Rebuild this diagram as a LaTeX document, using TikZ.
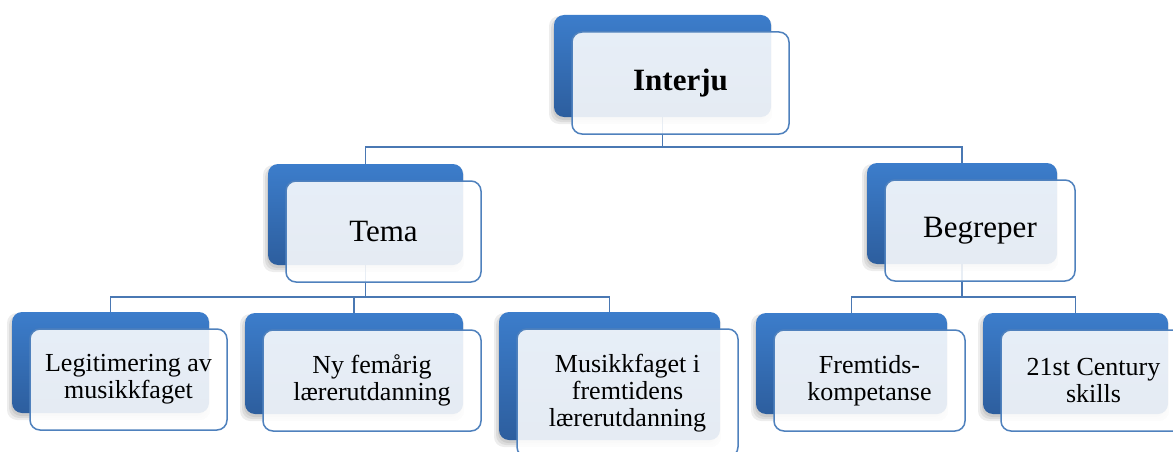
\documentclass[tikz,border=0pt]{standalone}
\usepackage{fontspec}
\setmainfont{Liberation Serif}
\usetikzlibrary{calc}
\definecolor{btop}{HTML}{3C7DCB}
\definecolor{bbot}{HTML}{2D5E9E}
\definecolor{edgeblue}{HTML}{4F81BD}
\definecolor{connblue}{HTML}{4A78B3}
\pgfdeclarelayer{bg}
\pgfsetlayers{bg,main}
\tikzset{
  backbox/.style={rounded corners=10pt, top color=btop, bottom color=bbot, draw=none, inner sep=0pt},
  frontbox/.style={rounded corners=10pt, draw=edgeblue, line width=1.5pt, fill=white, fill opacity=0.88, text opacity=1, inner sep=0pt, align=center},
  connector/.style={draw=connblue, line width=1.8pt},
  bigtext/.style={font=\fontsize{31}{34}\selectfont},
  smalltext/.style={font=\fontsize{26}{27}\selectfont},
  shadowbox/.style={rounded corners=10pt, fill=black, fill opacity=0.07, draw=none, inner sep=0pt}
}
\newcommand{\tbox}[7]{%
  \node[shadowbox, minimum width=#4pt+6pt, minimum height=#5pt+6pt] at (#2-2,#3+4) {};
  \node[shadowbox, minimum width=#4pt+2pt, minimum height=#5pt+2pt] at (#2-2,#3+4) {};
  \node[shadowbox, minimum width=#4pt-2pt, minimum height=#5pt-2pt] at (#2-2,#3+4) {};
  \node[backbox, minimum width=#4pt, minimum height=#5pt] (#1) at (#2,#3) {};
  \node[frontbox, #6, minimum width=#4pt, minimum height=#5pt] (#1f) at (#2+18,#3+17) {#7};
}
\begin{document}
\begin{tikzpicture}[x=1pt,y=-1pt]
\useasboundingbox (0,0) rectangle (1173,452);
\tbox{I}{662.5}{66}{217}{102}{bigtext}{\bfseries Interju}
\tbox{T}{365.5}{214.5}{195}{101}{bigtext}{Tema}
\tbox{B}{962}{213.5}{190}{101}{bigtext}{Begreper}
\tbox{L}{110.5}{362.5}{197}{101}{smalltext}{Legitimering av\\musikkfaget}
\tbox{N}{354}{363.5}{218}{101}{smalltext}{Ny femårig\\lærerutdanning}
\tbox{M}{609.5}{376}{221}{128}{smalltext}{Musikkfaget i\\fremtidens\\lærerutdanning}
\tbox{F}{851.5}{363.5}{191}{101}{smalltext}{Fremtids-\\kompetanse}
\tbox{C}{1075.5}{363.5}{185}{101}{smalltext}{21st Century\\skills}
\coordinate (b1) at (0,147);
\coordinate (b2) at (0,297);
\begin{pgfonlayer}{bg}
\draw[connector] (I.south) -- (I.south |- b1) -| (T.north);
\draw[connector] (I.south |- b1) -| (B.north);
\draw[connector] (T.south) -- (T.south |- b2) -| (L.north);
\draw[connector] (T.south |- b2) -| (N.north);
\draw[connector] (T.south |- b2) -| (M.north);
\draw[connector] (B.south) -- (B.south |- b2) -| (F.north);
\draw[connector] (B.south |- b2) -| (C.north);
\end{pgfonlayer}
\end{tikzpicture}
\end{document}
